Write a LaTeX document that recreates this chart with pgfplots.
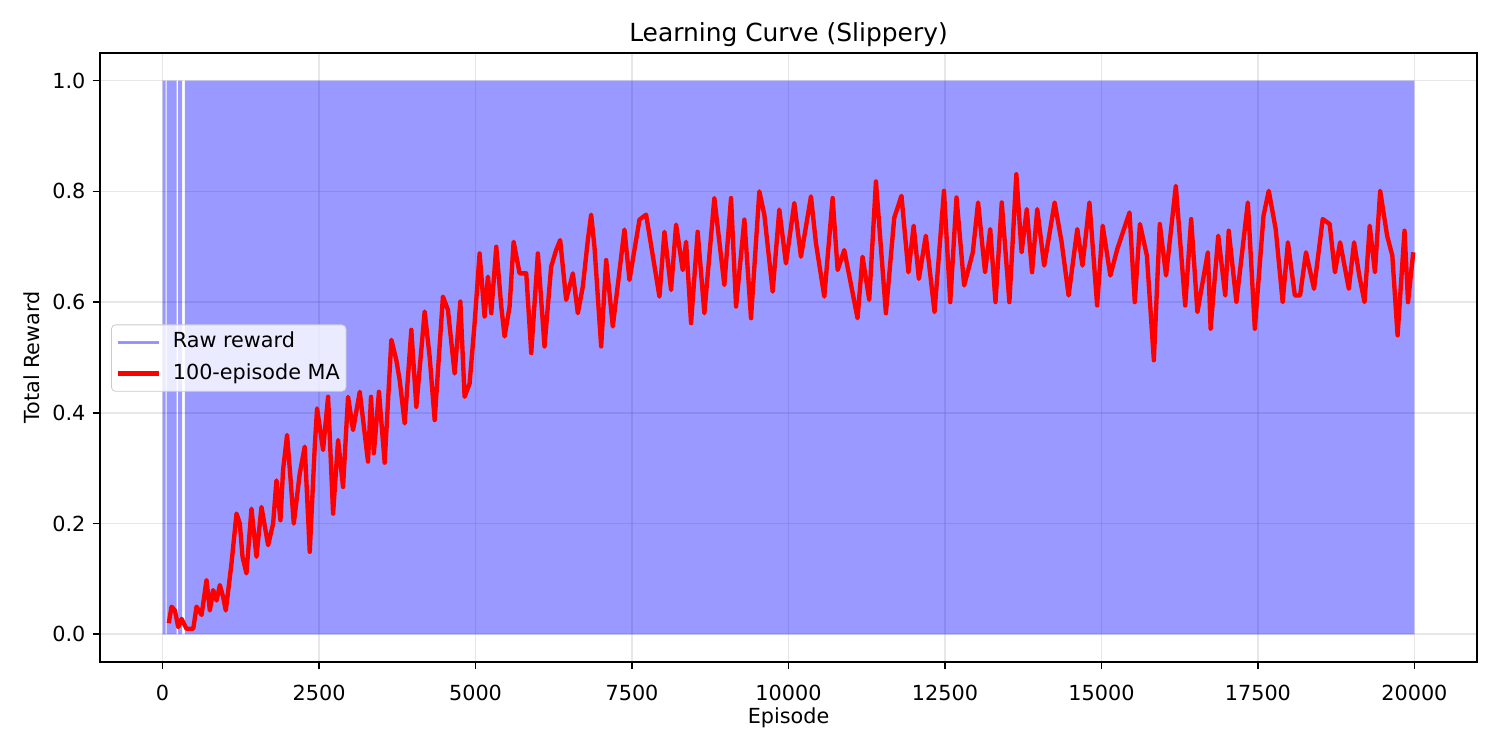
\documentclass[border=0pt]{standalone}
\usepackage{fontspec}
\setmainfont{DejaVu Sans}
\usepackage{pgfplots}
\pgfplotsset{compat=1.18}
\definecolor{gridgray}{HTML}{B0B0B0}
\definecolor{legframe}{HTML}{CCCCCC}
% 1 px of the 1500x750 target = 0.4818pt

\begin{document}
\begin{tikzpicture}
\path[use as bounding box] (-48.18pt,-42.40pt) rectangle (674.52pt,318.95pt);
\begin{axis}[
  at={(0,0)}, anchor=south west,
  scale only axis, width=663.44pt, height=293.42pt,
  xmin=-1000, xmax=21000, ymin=-0.05, ymax=1.05,
  xtick={0,2500,...,20000},
  ytick={0,0.2,0.4,0.6,0.8,1.0},
  scaled x ticks=false, scaled y ticks=false,
  xtick pos=left, ytick pos=left,
  tick align=outside, major tick length=3.5pt,
  tick style={black, line width=0.8pt},
  axis line style={line width=0.8pt},
  grid=major,
  major grid style={gridgray, opacity=0.3, line width=0.8pt},
  /pgf/number format/assume math mode=true,
  xticklabel style={/pgf/number format/.cd, fixed, precision=0, 1000 sep={}, /tikz/.cd, anchor=base, yshift=-15.2pt},
  yticklabel style={/pgf/number format/.cd, fixed, fixed zerofill, precision=1},
  tick label style={font=\fontsize{10}{12}\selectfont},
  every axis x label/.style={at={(axis description cs:0.5,-0.1002)}, anchor=base,
    font=\fontsize{10}{12}\selectfont},
  every axis y label/.style={at={(axis description cs:-0.0436,0.5)}, rotate=90, anchor=base,
    font=\fontsize{10}{12}\selectfont},
  every axis title/.style={at={(axis description cs:0.5,1)}, anchor=base, yshift=5.6pt,
    font=\fontsize{12}{14}\selectfont},
  title={Learning Curve (Slippery)},
  xlabel={Episode},
  ylabel={Total Reward},
  legend cell align=left,
  legend image code/.code={\draw[#1] (0pt,0pt) -- (20pt,0pt);},
  legend style={at={(axis description cs:0.008,0.499)}, anchor=west,
    fill=white, fill opacity=0.8, text opacity=1, draw=legframe, rounded corners=2pt,
    font=\fontsize{10}{12}\selectfont, inner xsep=2pt, inner ysep=2.5pt,
    row sep=3pt, column sep=4.5pt,
    nodes={inner sep=1pt, text height=7.6pt, text depth=2.4pt}},
]
% raw reward: the 0/1 line fills the band; white gaps are runs of zeros
\addplot[draw=none, fill=blue, fill opacity=0.4,
  legend image code/.code={\draw[blue, opacity=0.4, line width=1.5pt] (0pt,0pt) -- (20pt,0pt);}]
  coordinates {(0,0) (0,1) (48,1) (48,0) (64,0) (64,1) (223,1) (223,0) (249,0) (249,1)
    (313,1) (313,0) (356,0) (356,1) (20000,1) (20000,0)} \closedcycle;
\addlegendentry{Raw reward}
% 100-episode moving average
\addplot[red, line width=2.1pt, line join=round] coordinates {
(99,0.02) (143,0.05) (197,0.043) (250,0.013) (303,0.028) (383,0.01) (490,0.01) (543,0.05)
(623,0.035) (702,0.098) (755,0.043) (808,0.08) (862,0.061) (915,0.089) (968,0.067) (1010,0.043)
(1101,0.128) (1181,0.218) (1234,0.20) (1277,0.14) (1340,0.11) (1420,0.227) (1500,0.14) (1580,0.23)
(1686,0.161) (1766,0.20) (1819,0.278) (1883,0.206) (1925,0.297) (1989,0.36) (2042,0.284) (2096,0.20)
(2191,0.29) (2271,0.339) (2351,0.149) (2431,0.339) (2468,0.408) (2564,0.333) (2644,0.429) (2724,0.218)
(2804,0.351) (2883,0.266) (2963,0.429) (3043,0.369) (3150,0.438) (3282,0.312) (3330,0.429) (3375,0.327)
(3457,0.438) (3548,0.31) (3655,0.532) (3735,0.495) (3788,0.459) (3868,0.381) (3974,0.55) (4054,0.411)
(4187,0.583) (4267,0.501) (4347,0.387) (4479,0.61) (4559,0.586) (4666,0.471) (4757,0.601) (4825,0.429)
(4905,0.453) (4985,0.562) (5065,0.688) (5144,0.574) (5198,0.646) (5251,0.58) (5331,0.70) (5411,0.592)
(5464,0.538) (5544,0.592) (5608,0.709) (5704,0.652) (5810,0.652) (5890,0.508) (5996,0.688) (6102,0.52)
(6208,0.664) (6288,0.694) (6352,0.712) (6448,0.604) (6555,0.652) (6634,0.58) (6714,0.628) (6794,0.712)
(6847,0.758) (6900,0.70) (7007,0.52) (7087,0.676) (7193,0.556) (7379,0.731) (7459,0.640) (7619,0.749)
(7725,0.758) (7938,0.610) (8018,0.727) (8124,0.622) (8204,0.740) (8310,0.658) (8364,0.709) (8443,0.562)
(8549,0.727) (8656,0.580) (8815,0.788) (8975,0.631) (9082,0.788) (9162,0.592) (9295,0.749) (9401,0.571)
(9534,0.80) (9614,0.758) (9747,0.619) (9853,0.767) (9959,0.670) (10093,0.779) (10199,0.682) (10359,0.791)
(10439,0.706) (10572,0.610) (10705,0.788) (10785,0.658) (10891,0.694) (11103,0.571) (11183,0.682) (11290,0.604)
(11397,0.818) (11556,0.580) (11689,0.752) (11805,0.792) (11916,0.654) (12000,0.738) (12083,0.642) (12194,0.720)
(12333,0.582) (12484,0.801) (12584,0.600) (12684,0.789) (12806,0.630) (12945,0.690) (13029,0.780) (13140,0.654)
(13223,0.732) (13307,0.600) (13407,0.780) (13529,0.600) (13640,0.831) (13724,0.690) (13807,0.768) (13891,0.654)
(13974,0.768) (14085,0.666) (14252,0.780) (14364,0.708) (14475,0.612) (14614,0.732) (14697,0.666) (14808,0.780)
(14931,0.594) (15020,0.738) (15142,0.648) (15253,0.696) (15448,0.762) (15532,0.600) (15615,0.741) (15726,0.684)
(15837,0.495) (15932,0.741) (16032,0.648) (16188,0.810) (16338,0.594) (16433,0.750) (16533,0.582) (16700,0.690)
(16744,0.552) (16866,0.720) (16978,0.612) (17033,0.729) (17156,0.600) (17339,0.780) (17450,0.552) (17589,0.756)
(17673,0.801) (17784,0.732) (17895,0.600) (17979,0.708) (18090,0.612) (18173,0.612) (18268,0.690) (18396,0.624)
(18535,0.750) (18646,0.741) (18730,0.654) (18813,0.708) (18952,0.624) (19036,0.708) (19119,0.648) (19203,0.600)
(19286,0.738) (19369,0.654) (19453,0.801) (19564,0.72) (19647,0.684) (19731,0.540) (19842,0.729) (19898,0.600)
(19981,0.690)
};
\addlegendentry{100-episode MA}
\end{axis}
\end{tikzpicture}
\end{document}
